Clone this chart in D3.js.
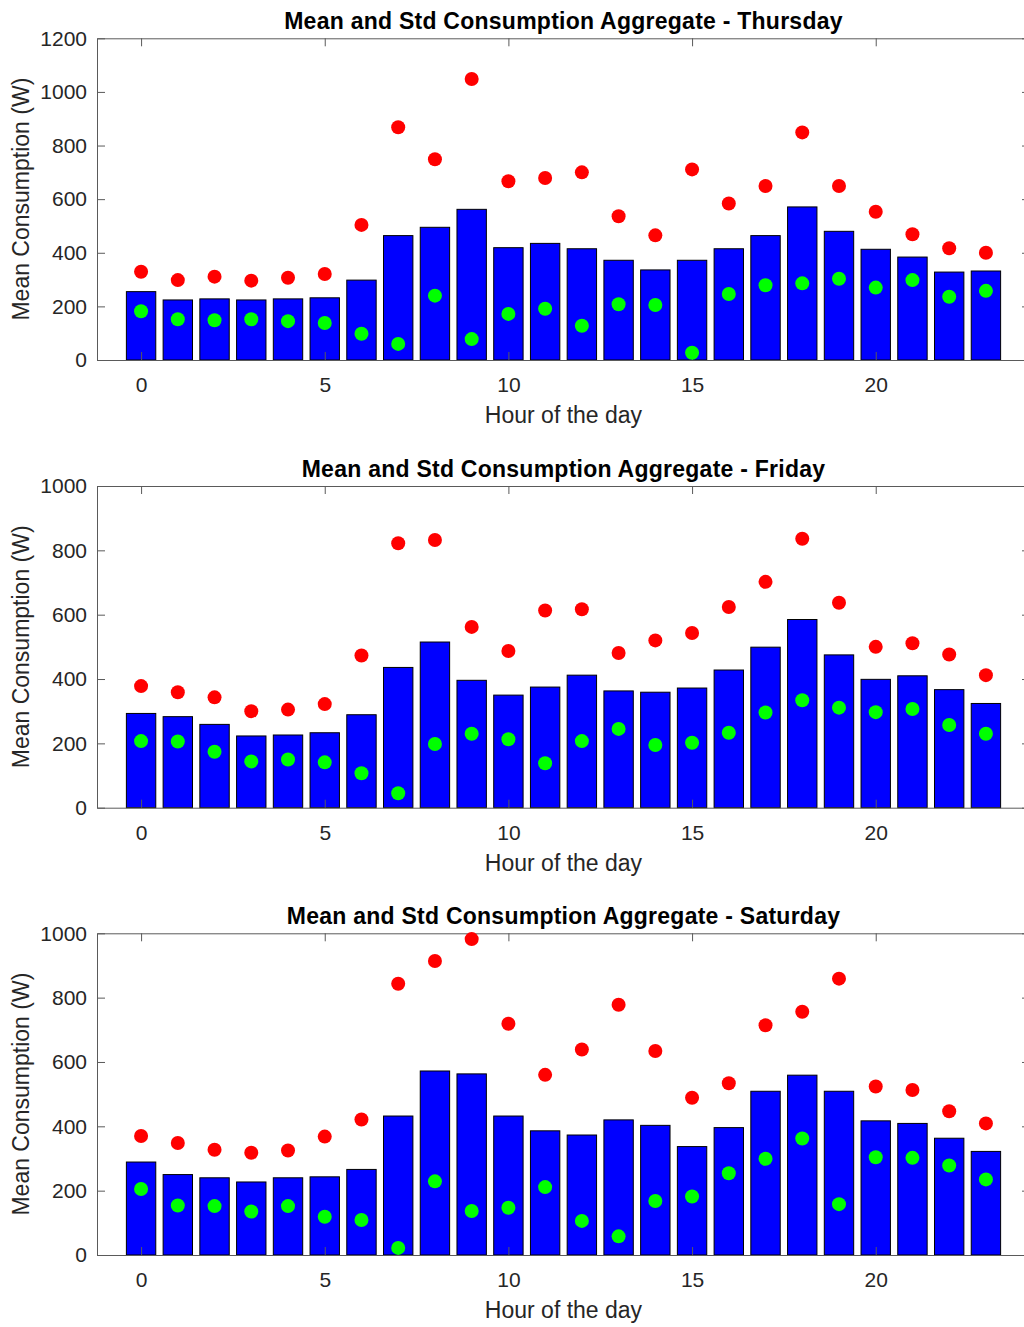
<!DOCTYPE html>
<html>
<head>
<meta charset="utf-8">
<script src="https://cdn.jsdelivr.net/npm/d3@7"></script>
<style>
  html, body { margin: 0; padding: 0; background: #fff; overflow: hidden; }
  svg { display: block; }
  text { font-family: "Liberation Sans", Arial, Helvetica, sans-serif; }
</style>
</head>
<body>
<script>
// Hours of the day shown on the x axis
const hours = d3.range(0, 24);
const xTicks = [0, 5, 10, 15, 20];

// Thursday: hourly mean, mean + std (red), mean - std (green)
const thuMean  = [255, 224, 228, 224, 228, 232, 298, 464, 495, 562, 419, 435, 415, 372, 336, 372, 415, 464, 571, 480, 413, 384, 328, 332];
const thuUpper = [329, 298, 311, 296, 307, 321, 504, 868, 749, 1048, 667, 679, 700, 536, 465, 711, 584, 649, 849, 649, 553, 469, 417, 400];
const thuLower = [182, 152, 148, 152, 145, 138, 98, 60, 240, 78, 172, 191, 128, 208, 205, 27, 246, 279, 286, 303, 270, 298, 236, 258];

// Friday
const friMean  = [293, 283, 259, 223, 226, 233, 289, 436, 515, 396, 350, 375, 412, 363, 359, 372, 428, 499, 585, 475, 399, 410, 367, 324];
const friUpper = [378, 359, 343, 300, 305, 322, 473, 822, 832, 562, 487, 613, 617, 481, 520, 543, 624, 702, 836, 637, 500, 511, 476, 412];
const friLower = [207, 206, 174, 144, 150, 141, 107, 45, 198, 230, 213, 138, 207, 245, 195, 202, 233, 296, 334, 311, 297, 307, 257, 230];

// Saturday
const satMean  = [289, 250, 240, 227, 240, 243, 266, 432, 572, 563, 432, 386, 373, 420, 403, 337, 396, 509, 559, 509, 417, 409, 363, 322];
const satUpper = [370, 348, 327, 318, 325, 368, 421, 843, 914, 982, 719, 560, 639, 778, 634, 489, 534, 714, 756, 859, 524, 513, 447, 409];
const satLower = [205, 154, 152, 135, 152, 119, 109, 22, 229, 137, 147, 211, 106, 58, 168, 182, 254, 299, 362, 158, 304, 302, 278, 235];

const days = ["Thursday", "Friday", "Saturday"];
const yMaxes = [1200, 1000, 1000];
const yTickSets = [d3.range(0, 1201, 200), d3.range(0, 1001, 200), d3.range(0, 1001, 200)];

const panels = [
  { day: days[0], mean: thuMean, upper: thuUpper, lower: thuLower, yMax: yMaxes[0], yTicks: yTickSets[0] },
  { day: days[1], mean: friMean, upper: friUpper, lower: friLower, yMax: yMaxes[1], yTicks: yTickSets[1] },
  { day: days[2], mean: satMean, upper: satUpper, lower: satLower, yMax: yMaxes[2], yTicks: yTickSets[2] }
];

const W = 1024, H = 1327;
const left = 97, right = 1030;
const tops = [38.3, 486, 933.3];
const plotH = 321.7;
const barWidth = 0.8;
const axisColor = "#5a5a5a";
const textColor = "#262626";

const svg = d3.select("body").append("svg")
  .attr("width", W).attr("height", H)
  .attr("viewBox", `0 0 ${W} ${H}`);

const x = d3.scaleLinear().domain([-1.2, 24.2]).range([left, right]);
const bw = x(barWidth) - x(0);

panels.forEach((p, i) => {
  const top = tops[i], bottom = top + plotH;
  const y = d3.scaleLinear().domain([0, p.yMax]).range([bottom, top]);
  const g = svg.append("g");

  // bars of the hourly mean
  g.append("g").selectAll("rect").data(hours).join("rect")
    .attr("x", h => x(h) - bw / 2)
    .attr("y", h => y(p.mean[h]))
    .attr("width", bw)
    .attr("height", h => y(0) - y(p.mean[h]))
    .attr("fill", "#0000ff")
    .attr("stroke", "#000")
    .attr("stroke-width", 1);

  // axes: box with inward ticks on all sides
  const styleAxis = sel => {
    sel.selectAll("path.domain").attr("stroke", axisColor).attr("stroke-width", 1);
    sel.selectAll(".tick line").attr("stroke", axisColor).attr("stroke-width", 1);
    sel.selectAll(".tick text")
      .attr("fill", textColor)
      .style("font-size", "21px")
      .style("font-family", '"Liberation Sans", Arial, sans-serif');
  };

  g.append("g").attr("transform", `translate(0,${bottom})`)
    .call(d3.axisBottom(x).tickValues(xTicks).tickFormat(d3.format("d"))
      .tickSizeInner(-8).tickSizeOuter(0).tickPadding(17))
    .call(styleAxis);
  g.append("g").attr("transform", `translate(0,${top})`)
    .call(d3.axisTop(x).tickValues(xTicks).tickFormat("")
      .tickSizeInner(-8).tickSizeOuter(0))
    .call(styleAxis);
  g.append("g").attr("transform", `translate(${left},0)`)
    .call(d3.axisLeft(y).tickValues(p.yTicks).tickFormat(d3.format("d"))
      .tickSizeInner(-8).tickSizeOuter(0).tickPadding(10))
    .call(styleAxis);
  g.append("g").attr("transform", `translate(${right},0)`)
    .call(d3.axisRight(y).tickValues(p.yTicks).tickFormat("")
      .tickSizeInner(-8).tickSizeOuter(0))
    .call(styleAxis);

  // mean + std markers
  g.append("g").selectAll("circle").data(hours).join("circle")
    .attr("cx", h => x(h))
    .attr("cy", h => y(p.upper[h]))
    .attr("r", 7)
    .attr("fill", "#ff0000");

  // mean - std markers
  g.append("g").selectAll("circle").data(hours).join("circle")
    .attr("cx", h => x(h))
    .attr("cy", h => y(p.lower[h]))
    .attr("r", 7)
    .attr("fill", "#00ff00");

  // title
  g.append("text")
    .attr("x", (left + right) / 2)
    .attr("y", top - 9)
    .attr("text-anchor", "middle")
    .attr("fill", "#000")
    .style("font-size", "23px")
    .style("font-weight", "bold")
    .style("letter-spacing", "0.25px")
    .text(`Mean and Std Consumption Aggregate - ${p.day}`);

  // x label
  g.append("text")
    .attr("x", (left + right) / 2)
    .attr("y", bottom + 63)
    .attr("text-anchor", "middle")
    .attr("fill", textColor)
    .style("font-size", "23px")
    .text("Hour of the day");

  // y label
  g.append("text")
    .attr("transform", `translate(29,${(top + bottom) / 2}) rotate(-90)`)
    .attr("text-anchor", "middle")
    .attr("fill", textColor)
    .style("font-size", "23px")
    .text("Mean Consumption (W)");
});
</script>
</body>
</html>
